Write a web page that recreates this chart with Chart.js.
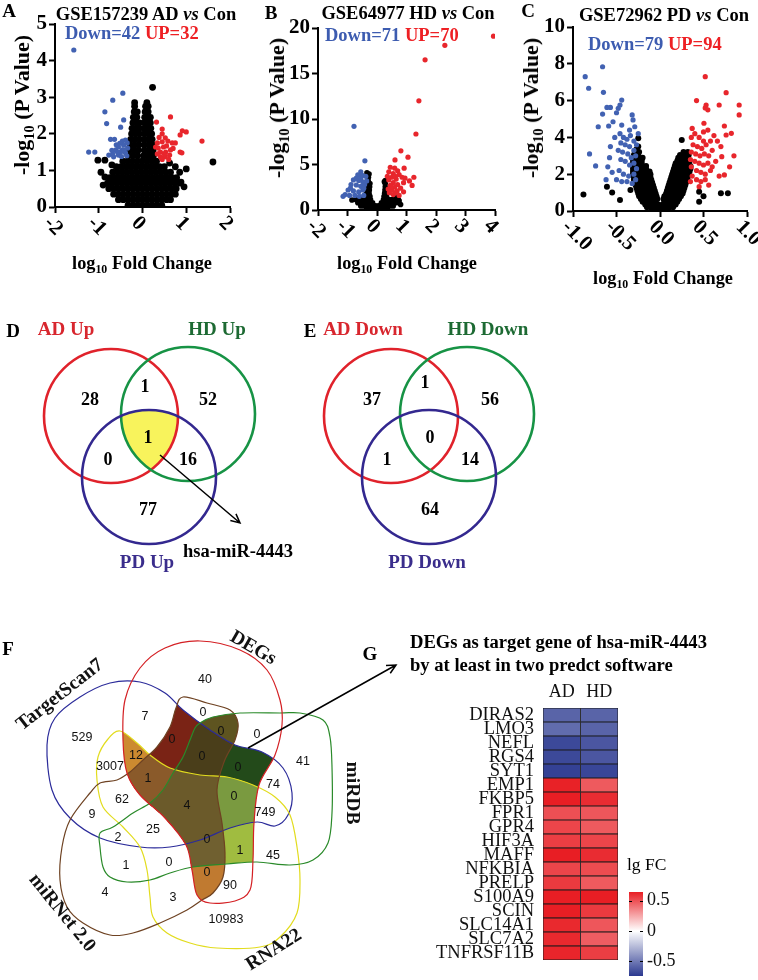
<!DOCTYPE html>
<html>
<head>
<meta charset="utf-8">
<script src="https://cdn.jsdelivr.net/npm/chart.js@4.4.1/dist/chart.umd.min.js"></script>
<style>
body { margin: 0; background: #fff; }
#page { position: relative; width: 758px; height: 980px; overflow: hidden; font-family: 'Liberation Serif', 'Times New Roman', serif; color: #000; }
canvas { position: absolute; }
.t { position: absolute; white-space: nowrap; transform: translate(-50%, -50%); font-weight: bold; line-height: 1; }
.l { position: absolute; white-space: nowrap; transform: translateY(-50%); font-weight: bold; line-height: 1; }
.r { transform: translate(-50%, -50%) rotate(-90deg); }
sub { font-size: 0.65em; vertical-align: -0.35em; line-height: 0; }
.dn { color: #3d5cb0; }
.up { color: #ee2024; }
</style>
</head>
<body>
<div id="page">
  <canvas id="cA" width="250" height="255" style="left:0;top:0"></canvas>
  <canvas id="cB" width="255" height="255" style="left:250px;top:0"></canvas>
  <canvas id="cC" width="253" height="255" style="left:505px;top:0"></canvas>
  <canvas id="cDE" width="758" height="290" style="left:0;top:290px"></canvas>
  <canvas id="cG" width="240" height="300" style="left:390px;top:680px"></canvas>
  <canvas id="cBar" width="158" height="100" style="left:600px;top:880px"></canvas>
  <canvas id="cF" width="400" height="380" style="left:0;top:600px"></canvas>

  <div class="t" style="left:9px;top:10px;font-size:19px">A</div>
  <div class="t" style="left:146px;top:14px;font-size:18.5px">GSE157239 AD <i>vs</i> Con</div>
  <div class="l" style="left:65px;top:33px;font-size:18.5px"><span class="dn">Down=42</span> <span class="up">UP=32</span></div>
  <div class="t r" style="left:22px;top:105px;font-size:22px">-log<sub>10</sub> (P Value)</div>
  <div class="t" style="left:142px;top:263px;font-size:18.3px">log<sub>10</sub> Fold Change</div>

  <div class="t" style="left:271px;top:12px;font-size:19px">B</div>
  <div class="t" style="left:408px;top:13px;font-size:18.5px">GSE64977 HD <i>vs</i> Con</div>
  <div class="l" style="left:325px;top:35px;font-size:18.5px"><span class="dn">Down=71</span> <span class="up">UP=70</span></div>
  <div class="t r" style="left:277px;top:108px;font-size:22px">-log<sub>10</sub> (P Value)</div>
  <div class="t" style="left:407px;top:263px;font-size:18.3px">log<sub>10</sub> Fold Change</div>

  <div class="t" style="left:528px;top:10px;font-size:19px">C</div>
  <div class="t" style="left:664px;top:15px;font-size:18.5px">GSE72962 PD <i>vs</i> Con</div>
  <div class="l" style="left:588px;top:44px;font-size:18.5px"><span class="dn">Down=79</span> <span class="up">UP=94</span></div>
  <div class="t r" style="left:531px;top:108px;font-size:22px">-log<sub>10</sub> (P Value)</div>
  <div class="t" style="left:663px;top:278px;font-size:18.3px">log<sub>10</sub> Fold Change</div>

  <div class="t" style="left:13px;top:330px;font-size:19px">D</div>
  <div class="t" style="left:310px;top:330px;font-size:19px">E</div>
  <div class="t" style="left:8px;top:648px;font-size:19px">F</div>
  <div class="t" style="left:370px;top:653px;font-size:19px">G</div>
  <div class="l" style="left:410px;top:642px;font-size:18.6px">DEGs as target gene of hsa-miR-4443</div>
  <div class="l" style="left:410px;top:665px;font-size:18.6px">by at least in two predct software</div>
  <div class="l" style="left:627px;top:865px;font-size:17.5px;font-weight:normal">lg FC</div>
</div>

<script>
// ---- Datos de los volcanes (A, B, C) ----
// filas de puntos negros: [y, x1, x2, ...]
const adBlackRows = [
  [0.05, -0.33, -0.22, -0.11, 0, 0.11, 0.22, 0.33, 0.44],
  [0.2, -0.55, -0.44, -0.33, -0.22, -0.11, 0, 0.11, 0.22, 0.33, 0.44, 0.55, 0.64],
  [0.35, -0.66, -0.55, -0.44, -0.33, -0.22, -0.11, 0, 0.11, 0.22, 0.33, 0.44, 0.55, 0.66, 0.75],
  [0.5, -0.77, -0.66, -0.55, -0.44, -0.33, -0.22, -0.11, 0, 0.11, 0.22, 0.33, 0.44, 0.55, 0.66, 0.77],
  [0.65, -0.8, -0.69, -0.58, -0.47, -0.36, -0.25, -0.14, -0.03, 0.08, 0.19, 0.3, 0.41, 0.52, 0.63, 0.74, 0.85],
  [0.8, -0.75, -0.64, -0.53, -0.42, -0.31, -0.2, -0.09, 0.02, 0.13, 0.24, 0.35, 0.46, 0.57, 0.68, 0.78],
  [0.95, -0.68, -0.57, -0.46, -0.35, -0.24, -0.13, -0.02, 0.09, 0.2, 0.31, 0.42, 0.53, 0.64],
  [1.1, -0.6, -0.49, -0.38, -0.27, -0.16, -0.05, 0.06, 0.17, 0.28, 0.39, 0.5],
  [1.25, -0.45, -0.34, -0.23, -0.12, -0.01, 0.1, 0.21, 0.32],
  [1.4, -0.33, -0.22, -0.11, 0.03, 0.14, 0.25],
  [1.55, -0.3, -0.2, -0.1, 0.04, 0.14, 0.24],
  [1.7, -0.28, -0.18, -0.08, 0.04, 0.14, 0.23],
  [1.85, -0.27, -0.17, -0.07, 0.04, 0.14, 0.22],
  [2.0, -0.25, -0.16, -0.07, 0.04, 0.13, 0.21],
  [2.15, -0.24, -0.15, -0.07, 0.04, 0.12, 0.19],
  [2.3, -0.22, -0.14, -0.07, 0.04, 0.11, 0.18],
  [2.45, -0.21, -0.13, 0.05, 0.12, 0.18],
  [2.6, -0.19, -0.12, 0.06, 0.13],
  [2.75, -0.18, 0.07, 0.13],
  [2.85, -0.18, 0.1]
];
const adBlackOut = [[0.23, 3.27], [1.61, 1.23], [1.0, 1.04], [-1.02, 1.28], [-0.86, 1.28], [-0.86, 0.82], [-0.95, 0.95],
  [0.88, 0.68], [0.85, 0.95], [0.75, 1.1], [-0.7, 1.15], [0.62, 1.2], [0.95, 0.55], [-0.9, 0.6]];
const adBlue = [[-1.57, 4.29], [-0.45, 3.11], [-0.68, 2.92], [-0.86, 2.6], [-0.82, 2.28], [-0.43, 2.38], [-0.5, 2.18],
  [-0.73, 1.85], [-0.64, 1.85], [-0.46, 1.8], [-0.39, 1.83], [-1.23, 1.5], [-1.09, 1.5], [-0.77, 1.42], [-0.61, 1.56],
  [-0.55, 1.64], [-0.46, 1.56], [-0.43, 1.69], [-0.55, 1.42], [-0.39, 1.48], [-0.34, 1.61], [-0.66, 1.37], [-0.68, 1.45],
  [-0.5, 1.5], [-0.6, 1.7], [-0.36, 1.4], [-0.48, 1.38], [-0.57, 1.5], [-0.42, 1.55], [-0.52, 1.74], [-0.7, 1.55], [-0.35, 1.75]];
const adRed = [[0.64, 2.46], [0.32, 2.32], [0.45, 2.13], [0.91, 2.08], [1.0, 2.05], [0.86, 1.97], [0.52, 1.89], [1.36, 1.8],
  [0.34, 1.75], [0.45, 1.78], [0.68, 1.75], [0.75, 1.75], [0.36, 1.61], [0.48, 1.64], [0.55, 1.67], [0.64, 1.56], [0.41, 1.5],
  [0.86, 1.5], [0.9, 1.48], [0.41, 1.37], [0.52, 1.37], [0.62, 1.42], [0.45, 1.3], [0.34, 1.45], [0.3, 1.64], [0.53, 1.5],
  [0.7, 1.6], [0.45, 2.0], [0.58, 1.8], [0.38, 1.9], [0.5, 1.45], [0.6, 1.3]];

const hdBlackRows = [
  [0.1, -0.35, -0.25, -0.15, -0.05, 0.05, 0.15, 0.25, 0.35],
  [0.45, -0.55, -0.45, -0.35, -0.25, -0.15, -0.05, 0.05, 0.15, 0.25, 0.35, 0.45, 0.55],
  [0.8, -0.65, -0.55, -0.45, -0.35, -0.25, -0.15, 0.15, 0.25, 0.35, 0.45, 0.55, 0.65],
  [1.15, -0.72, -0.62, -0.52, -0.42, -0.32, -0.22, 0.22, 0.32, 0.42, 0.52, 0.62, 0.72],
  [1.5, -0.4, -0.32, -0.24, 0.24, 0.32],
  [1.85, -0.36, -0.27, 0.26, 0.34],
  [2.2, -0.34, -0.26, 0.27],
  [2.55, -0.33, -0.25, 0.28],
  [2.9, -0.31, -0.24, 0.28],
  [3.25, -0.3, 0.28],
  [3.6, -0.29],
  [3.95, -0.27]
];
const hdBlackOut = [[0.75, 1.0], [0.65, 1.35], [0.25, 3.1], [-0.85, 1.1], [0.8, 0.6], [-0.34, 4.1]];
const hdBlue = [[-0.78, 9.2], [-0.41, 5.4], [-0.55, 4.2], [-0.65, 3.85], [-0.5, 3.8], [-0.38, 3.7], [-0.8, 3.3], [-0.62, 3.25],
  [-0.48, 3.1], [-0.88, 2.8], [-0.7, 2.75], [-0.55, 2.6], [-0.42, 2.8], [-0.98, 2.2], [-0.8, 2.1], [-0.62, 2.0], [-0.48, 2.2],
  [-1.08, 1.7], [-0.93, 1.6], [-1.15, 1.5], [-0.75, 1.6], [-0.6, 1.5], [-0.45, 1.6], [-0.7, 3.5], [-0.35, 3.2], [-0.9, 2.4],
  [-0.55, 3.5], [-0.45, 2.4]];
const hdRed = [[3.95, 19.1], [2.3, 18.1], [1.63, 16.5], [1.42, 12.0], [1.32, 8.35], [0.81, 6.5], [1.05, 5.8], [0.61, 5.5],
  [0.92, 4.6], [0.45, 4.7], [0.6, 4.6], [0.7, 4.3], [1.25, 3.6], [1.19, 2.7], [1.1, 3.2], [0.4, 4.2], [0.55, 4.0], [0.75, 3.9],
  [0.85, 3.6], [0.5, 3.6], [0.65, 3.4], [0.4, 3.3], [0.9, 3.0], [0.55, 3.0], [0.7, 2.8], [0.45, 2.7], [0.6, 2.5], [0.8, 2.4],
  [0.38, 2.3], [0.5, 2.2], [0.68, 2.1], [0.9, 2.0], [0.42, 1.9], [0.55, 1.7], [0.75, 1.6], [0.35, 3.7], [0.95, 3.5],
  [0.62, 3.7], [0.48, 2.5], [0.62, 1.9]];

const pdBlackRows = [
  [0.05, -0.1, -0.05, 0, 0.05, 0.1],
  [0.2, -0.15, -0.1, -0.05, 0, 0.05, 0.1, 0.15],
  [0.35, -0.17, -0.12, -0.07, -0.02, 0.03, 0.08, 0.13, 0.18],
  [0.5, -0.2, -0.15, -0.1, -0.05, 0.05, 0.1, 0.15, 0.2],
  [0.65, -0.22, -0.17, -0.12, -0.07, -0.03, 0.04, 0.08, 0.13, 0.18, 0.22],
  [0.8, -0.24, -0.19, -0.14, -0.09, -0.04, 0.05, 0.1, 0.15, 0.2, 0.24],
  [0.95, -0.25, -0.2, -0.15, -0.1, -0.05, 0.07, 0.12, 0.17, 0.22, 0.26],
  [1.1, -0.26, -0.21, -0.16, -0.11, -0.06, 0.08, 0.13, 0.18, 0.23, 0.27],
  [1.25, -0.27, -0.22, -0.17, -0.12, -0.07, 0.09, 0.14, 0.19, 0.24, 0.28],
  [1.4, -0.28, -0.23, -0.18, -0.13, -0.08, 0.1, 0.15, 0.2, 0.25, 0.29],
  [1.55, -0.29, -0.24, -0.19, -0.14, -0.09, 0.11, 0.16, 0.21, 0.26, 0.3],
  [1.7, -0.3, -0.25, -0.2, -0.15, -0.1, 0.12, 0.17, 0.22, 0.27, 0.31],
  [1.85, -0.3, -0.25, -0.2, -0.15, -0.11, 0.13, 0.18, 0.23, 0.28, 0.32],
  [2.0, -0.31, -0.26, -0.21, -0.16, -0.11, 0.14, 0.19, 0.24, 0.29, 0.33],
  [2.15, -0.31, -0.26, -0.21, -0.16, -0.12, 0.15, 0.2, 0.25, 0.3, 0.34],
  [2.3, -0.31, -0.26, -0.21, -0.16, 0.16, 0.21, 0.26, 0.31, 0.35],
  [2.45, -0.31, -0.26, -0.21, -0.16, 0.17, 0.22, 0.27, 0.32, 0.35],
  [2.6, -0.31, -0.26, -0.21, 0.18, 0.23, 0.28, 0.33],
  [2.75, -0.31, -0.26, -0.21, 0.2, 0.25, 0.3, 0.34],
  [2.9, -0.3, -0.25, -0.2, 0.21, 0.26, 0.31],
  [3.05, -0.3, -0.25, 0.23, 0.28, 0.33],
  [3.2, -0.29, -0.24, 0.27, 0.32],
  [3.35, -0.27],
  [3.5, -0.25]
];
const pdBlackOut = [[-0.88, 0.9], [-0.61, 1.32], [-0.46, 0.6], [-0.34, 1.14], [0.45, 1.05], [0.7, 0.96], [0.45, 0.5],
  [-0.25, 3.95], [0.25, 3.86], [0.78, 0.96], [-0.55, 1.0], [0.5, 0.8]];
const pdBlue = [[-0.86, 7.3], [-0.66, 7.84], [-0.82, 6.67], [-0.65, 6.45], [-0.44, 6.03], [-0.46, 5.76], [-0.61, 5.63],
  [-0.57, 5.63], [-0.48, 5.58], [-0.5, 5.34], [-0.66, 5.27], [-0.32, 5.22], [-0.31, 4.95], [-0.54, 4.85], [-0.71, 4.58],
  [-0.59, 4.62], [-0.44, 4.67], [-0.29, 4.58], [-0.81, 3.1], [-0.74, 2.45],
  [-0.46, 4.2], [-0.42, 4.0], [-0.38, 3.9], [-0.34, 4.1], [-0.3, 3.8], [-0.45, 3.7], [-0.4, 3.6], [-0.35, 3.5], [-0.3, 3.3],
  [-0.27, 3.6], [-0.48, 3.3], [-0.43, 3.2], [-0.37, 3.1], [-0.33, 2.9], [-0.28, 3.0], [-0.45, 2.8], [-0.4, 2.7], [-0.35, 2.5],
  [-0.3, 2.6], [-0.27, 2.3], [-0.55, 2.1], [-0.47, 2.2], [-0.42, 2.0], [-0.36, 1.9], [-0.3, 2.0], [-0.5, 1.7], [-0.44, 1.6],
  [-0.38, 1.6], [-0.32, 1.5], [-0.28, 1.7], [-0.52, 4.0], [-0.57, 3.5], [-0.6, 2.4], [-0.62, 1.7], [-0.35, 4.4], [-0.25, 4.2],
  [-0.58, 2.9]];
const pdRed = [[0.52, 7.3], [0.76, 6.43], [0.42, 6.0], [0.53, 5.76], [0.52, 5.6], [0.55, 5.5], [0.68, 5.76], [0.91, 5.76],
  [0.91, 5.22], [0.37, 4.49], [0.74, 4.62], [0.82, 4.22], [0.76, 4.13], [0.505, 4.77], [0.6, 3.3], [0.71, 2.95], [0.74, 1.96],
  [0.56, 1.41], [0.45, 1.32], [0.66, 3.8], [0.7, 3.5], [0.62, 4.1], [0.55, 4.4], [0.85, 3.0], [0.8, 2.4], [0.64, 2.7],
  [0.58, 2.2], [0.68, 1.9],
  [0.36, 4.0], [0.4, 4.2], [0.45, 4.0], [0.5, 3.8], [0.38, 3.6], [0.43, 3.5], [0.48, 3.4], [0.53, 3.6], [0.36, 3.2],
  [0.41, 3.1], [0.46, 3.0], [0.51, 3.1], [0.56, 3.0], [0.35, 2.8], [0.4, 2.7], [0.45, 2.6], [0.5, 2.5], [0.55, 2.6],
  [0.36, 2.4], [0.42, 2.2], [0.47, 2.1], [0.52, 2.0], [0.37, 1.9], [0.42, 1.7], [0.47, 1.6], [0.35, 1.6], [0.52, 1.7],
  [0.6, 2.4], [0.5, 4.3], [0.58, 3.8]];

const adXTicks = [-2, -1, 0, 1, 2];
const adXLabels = ['-2', '-1', '0', '1', '2'];
const hdXTicks = [-2, -1, 0, 1, 2, 3, 4];
const hdXLabels = ['-2', '-1', '0', '1', '2', '3', '4'];
const pdXTicks = [-1, -0.5, 0, 0.5, 1];
const pdXLabels = ['-1.0', '-0.5', '0.0', '0.5', '1.0'];

// ---- Diagramas de Venn D y E ----
const vennNamesD = ['AD Up', 'HD Up', 'PD Up'];
const vennCountsD = [28, 52, 77, 1, 0, 16, 1];   // AD, HD, PD, AD&HD, AD&PD, HD&PD, todos
const vennNamesE = ['AD Down', 'HD Down', 'PD Down'];
const vennCountsE = [37, 56, 64, 1, 1, 14, 0];

// ---- Venn de 5 conjuntos (F) ----
const fSets = ['DEGs', 'TargetScan7', 'RNA22', 'miRNet 2.0', 'miRDB'];
const fCounts = [40, 7, 0, 529, 0, 0, 0, 41, 3007, 12, 0, 0, 1, 74, 62, 4, 0, 749, 9, 25, 2, 0, 1, 45, 1, 0, 0, 90, 4, 3, 10983];

// ---- Heatmap (G) ----
const genes = ['DIRAS2', 'LMO3', 'NEFL', 'RGS4', 'SYT1', 'EMP1', 'FKBP5', 'FPR1', 'GPR4', 'HIF3A', 'MAFF', 'NFKBIA',
  'PRELP', 'S100A9', 'SCIN', 'SLC14A1', 'SLC7A2', 'TNFRSF11B'];
const heatCols = ['AD', 'HD'];
const fcAD = [-0.58, -0.55, -0.68, -0.68, -0.71, 0.63, 0.64, 0.50, 0.53, 0.55, 0.64, 0.53, 0.56, 0.64, 0.64, 0.61, 0.61, 0.62];
const fcHD = [-0.58, -0.58, -0.63, -0.63, -0.69, 0.47, 0.60, 0.48, 0.47, 0.53, 0.60, 0.51, 0.47, 0.64, 0.56, 0.48, 0.46, 0.55];
const cbTicks = [0.5, 0, -0.5];
const cbMin = -0.74, cbMax = 0.64;

const SERIF = '"Liberation Serif", "Times New Roman", serif';
Chart.defaults.font.family = SERIF;

function rowsToPoints(rows, extra) {
  const pts = [];
  rows.forEach(r => r.slice(1).forEach(x => pts.push({ x: x, y: r[0] })));
  extra.forEach(p => pts.push({ x: p[0], y: p[1] }));
  return pts;
}
function pairs(list) { return list.map(p => ({ x: p[0], y: p[1] })); }

// etiquetas del eje x giradas 45 grados en sentido horario
const rotLabels = {
  id: 'rotLabels',
  afterDraw(chart, args, opts) {
    const xs = chart.scales.x, ctx = chart.ctx;
    ctx.save();
    ctx.font = 'bold 21px ' + SERIF;
    ctx.fillStyle = '#000';
    ctx.textAlign = 'left';
    ctx.textBaseline = 'middle';
    opts.ticks.forEach((v, i) => {
      ctx.save();
      ctx.translate(xs.getPixelForValue(v) - 8, xs.top + 13);
      ctx.rotate(Math.PI / 4);
      ctx.fillText(opts.labels[i], 0, 0);
      ctx.restore();
    });
    ctx.restore();
  }
};

function volcano(id, o) {
  const axisGrid = { drawOnChartArea: false, tickLength: 6, tickWidth: 2, tickColor: '#000' };
  const axisBorder = { color: '#000', width: 2 };
  new Chart(document.getElementById(id), {
    type: 'scatter',
    data: {
      datasets: [
        { data: pairs(o.red), backgroundColor: '#e8262c', pointRadius: 2.6, pointBorderWidth: 0, order: 1 },
        { data: pairs(o.blue), backgroundColor: '#4262b2', pointRadius: 2.6, pointBorderWidth: 0, order: 2 },
        { data: rowsToPoints(o.blackRows, o.blackOut), backgroundColor: '#000', pointRadius: o.blackR, pointBorderWidth: 0, order: 3 }
      ]
    },
    options: {
      responsive: false,
      animation: false,
      layout: { padding: o.pad },
      plugins: {
        legend: { display: false },
        tooltip: { enabled: false },
        rotLabels: { ticks: o.xTicks, labels: o.xLabels }
      },
      scales: {
        x: {
          type: 'linear', min: o.xMin, max: o.xMax,
          afterBuildTicks: s => { s.ticks = o.xTicks.map(v => ({ value: v })); },
          afterFit: s => { s.height = o.xH; },
          ticks: { display: false },
          grid: axisGrid, border: axisBorder
        },
        y: {
          type: 'linear', min: 0, max: o.yMax,
          ticks: { stepSize: o.yStep, color: '#000', padding: 2, font: { size: 21, weight: 'bold' } },
          afterFit: s => { s.width = o.yW; },
          grid: axisGrid, border: axisBorder
        }
      }
    },
    plugins: [rotLabels]
  });
}

volcano('cA', { red: adRed, blue: adBlue, blackRows: adBlackRows, blackOut: adBlackOut, blackR: 3.4,
  xMin: -2, xMax: 2, xTicks: adXTicks, xLabels: adXLabels, yMax: 5, yStep: 1,
  pad: { top: 24, right: 20, left: 0, bottom: 0 }, yW: 55, xH: 48 });
volcano('cB', { red: hdRed, blue: hdBlue, blackRows: hdBlackRows, blackOut: hdBlackOut, blackR: 2.8,
  xMin: -2, xMax: 4, xTicks: hdXTicks, xLabels: hdXLabels, yMax: 20, yStep: 5,
  pad: { top: 28, right: 10, left: 0, bottom: 0 }, yW: 68, xH: 45 });
volcano('cC', { red: pdRed, blue: pdBlue, blackRows: pdBlackRows, blackOut: pdBlackOut, blackR: 3,
  xMin: -1, xMax: 1, xTicks: pdXTicks, xLabels: pdXLabels, yMax: 10, yStep: 2,
  pad: { top: 27, right: 11, left: 0, bottom: 0 }, yW: 68, xH: 44 });

// ---- D y E: tres círculos cada uno ----
const venn3 = {
  id: 'venn3',
  afterDraw(chart, args, opts) {
    const { ctx, scales: { x, y } } = chart;
    const k = x.getPixelForValue(1) - x.getPixelForValue(0);
    opts.diagrams.forEach(d => {
      const C = d.circles.map(c => ({ x: x.getPixelForValue(c[0]), y: y.getPixelForValue(c[1]), r: c[2] * k }));
      if (d.highlight) {
        ctx.save();
        C.forEach(c => { ctx.beginPath(); ctx.arc(c.x, c.y, c.r, 0, Math.PI * 2); ctx.clip(); });
        ctx.fillStyle = '#f8f35c';
        ctx.fillRect(0, 0, chart.width, chart.height);
        ctx.restore();
      }
      ctx.lineWidth = 2.6;
      C.forEach((c, i) => {
        ctx.beginPath(); ctx.arc(c.x, c.y, c.r, 0, Math.PI * 2);
        ctx.strokeStyle = d.stroke[i]; ctx.stroke();
      });
      ctx.textAlign = 'center'; ctx.textBaseline = 'middle';
      ctx.font = 'bold 18px ' + SERIF; ctx.fillStyle = '#000';
      d.counts.forEach((n, i) => ctx.fillText(String(n), x.getPixelForValue(d.countPos[i][0]), y.getPixelForValue(d.countPos[i][1])));
      ctx.font = 'bold 19px ' + SERIF;
      d.names.forEach((s, i) => {
        ctx.fillStyle = d.nameColor[i];
        ctx.fillText(s, x.getPixelForValue(d.namePos[i][0]), y.getPixelForValue(d.namePos[i][1]));
      });
      if (d.arrow) {
        const a = d.arrow;
        const x0 = x.getPixelForValue(a[0]), y0 = y.getPixelForValue(a[1]);
        const x1 = x.getPixelForValue(a[2]), y1 = y.getPixelForValue(a[3]);
        drawArrow(ctx, x0, y0, x1, y1);
        ctx.font = 'bold 18.5px ' + SERIF; ctx.fillStyle = '#000';
        ctx.fillText(a[4], x.getPixelForValue(a[5]), y.getPixelForValue(a[6]));
      }
    });
  }
};

function drawArrow(ctx, x0, y0, x1, y1) {
  const ang = Math.atan2(y1 - y0, x1 - x0);
  ctx.save();
  ctx.strokeStyle = '#000'; ctx.lineWidth = 1.5;
  ctx.beginPath(); ctx.moveTo(x0, y0); ctx.lineTo(x1, y1);
  ctx.moveTo(x1 - 10 * Math.cos(ang - 0.45), y1 - 10 * Math.sin(ang - 0.45));
  ctx.lineTo(x1, y1);
  ctx.lineTo(x1 - 10 * Math.cos(ang + 0.45), y1 - 10 * Math.sin(ang + 0.45));
  ctx.stroke();
  ctx.restore();
}

const circleStroke = ['#e0222b', '#179345', '#33288f'];
const nameColor = ['#d8262e', '#1d6a33', '#3a2d8c'];
new Chart(document.getElementById('cDE'), {
  type: 'scatter',
  data: { datasets: [] },
  options: {
    responsive: false, animation: false,
    layout: { padding: 0 },
    plugins: {
      legend: { display: false }, tooltip: { enabled: false },
      venn3: {
        diagrams: [
          { circles: [[111, 416, 67], [188, 414, 67], [149, 477, 67]], stroke: circleStroke, highlight: true,
            counts: vennCountsD, countPos: [[90, 400], [208, 400], [148, 510], [145, 387], [108, 460], [188, 460], [148, 438]],
            names: vennNamesD, nameColor: nameColor, namePos: [[66, 330], [217, 330], [147, 563]],
            arrow: [160, 455, 240, 523, 'hsa-miR-4443', 238, 552] },
          { circles: [[391, 416, 67], [467, 414, 67], [429, 477, 67]], stroke: circleStroke, highlight: false,
            counts: vennCountsE, countPos: [[372, 400], [490, 400], [430, 510], [425, 383], [387, 460], [470, 460], [430, 438]],
            names: vennNamesE, nameColor: nameColor, namePos: [[363, 330], [488, 330], [427, 563]] }
        ]
      }
    },
    scales: {
      x: { type: 'linear', display: false, min: 0, max: 758 },
      y: { type: 'linear', display: false, min: 290, max: 580, reverse: true }
    }
  },
  plugins: [venn3]
});

// ---- F: contornos de los cinco conjuntos ----
const fShapes = [
  [[200, 641], [240, 650], [267, 670], [280, 700], [282, 725], [275, 755], [259, 785], [254, 823], [253, 860], [250, 890],
   [235, 901], [210, 903], [197, 895], [192, 870], [186, 845], [165, 818], [140, 795], [127, 773], [123, 740], [125, 700],
   [140, 668], [165, 648]],
  [[47, 745], [55, 718], [80, 697], [110, 683], [140, 682], [165, 693], [183, 710], [210, 730], [235, 745], [262, 752],
   [283, 768], [292, 793], [288, 815], [275, 826], [257, 822], [230, 828], [200, 840], [170, 847], [140, 847], [100, 838],
   [70, 818], [52, 790]],
  [[120, 731], [137, 743], [150, 755], [170, 768], [200, 775], [227, 777], [253, 785], [275, 797], [290, 815], [297, 847],
   [300, 880], [297, 913], [280, 937], [260, 947], [217, 948], [190, 943], [167, 933], [153, 917], [150, 897], [147, 870],
   [140, 847], [123, 827], [103, 807], [97, 780], [98, 757], [108, 739]],
  [[183, 697], [207, 703], [230, 710], [238, 723], [235, 740], [224, 762], [217, 790], [222, 823], [225, 853], [223, 877],
   [213, 893], [202, 900], [187, 910], [160, 923], [133, 933], [110, 935], [83, 923], [67, 907], [60, 880], [62, 847],
   [70, 820], [90, 793], [100, 783], [117, 780], [130, 772], [143, 760], [157, 747], [170, 727], [176, 708]],
  [[200, 723], [213, 717], [240, 713], [280, 713], [300, 713], [323, 720], [330, 737], [332, 767], [332, 813], [328, 843],
   [313, 860], [290, 865], [257, 862], [227, 864], [193, 867], [170, 873], [150, 880], [127, 882], [110, 877], [103, 867],
   [100, 847], [100, 833], [113, 827], [133, 813], [150, 803], [163, 790], [173, 773], [183, 757], [190, 740], [195, 728]]
];
const fStroke = ['#d42024', '#2b2b9a', '#e2dc1e', '#6e4222', '#2a8a2a'];
// regiones dentro de DEGs compartidas por dos o más programas
const fFills = [
  [[1, 3], '#7a2315'], [[1, 2], '#cc8a30'], [[1, 4], '#234a1a'], [[2, 3], '#c07a30'], [[2, 4], '#a0bc40'], [[3, 4], '#5e5420'],
  [[1, 2, 3], '#8a5a2a'], [[1, 3, 4], '#4a3e1a'], [[1, 2, 4], '#7a9a40'], [[2, 3, 4], '#706030'], [[1, 2, 3, 4], '#6b5a2a']
];
const fCountPos = [[205, 680], [145, 717], [203, 713], [82, 738], [172, 740], [221, 732], [257, 735], [303, 762], [110, 767],
  [136, 756], [202, 757], [238, 768], [148, 779], [273, 785], [122, 800], [187, 806], [234, 797], [265, 813], [92, 815],
  [153, 830], [118, 838], [207, 840], [240, 851], [273, 856], [126, 866], [169, 863], [207, 873], [230, 886], [105, 893],
  [173, 898], [226, 920]];
const fNamePos = [[253, 648, 30], [60, 695, -38], [274, 950, -32], [62, 913, 51], [352, 793, 90]];

function smoothPath(ctx, pts) {
  const n = pts.length;
  ctx.beginPath();
  ctx.moveTo(pts[0][0], pts[0][1]);
  for (let i = 0; i < n; i++) {
    const p0 = pts[(i - 1 + n) % n], p1 = pts[i], p2 = pts[(i + 1) % n], p3 = pts[(i + 2) % n];
    ctx.bezierCurveTo(p1[0] + (p2[0] - p0[0]) / 6, p1[1] + (p2[1] - p0[1]) / 6,
      p2[0] - (p3[0] - p1[0]) / 6, p2[1] - (p3[1] - p1[1]) / 6, p2[0], p2[1]);
  }
  ctx.closePath();
}

const venn5 = {
  id: 'venn5',
  afterDraw(chart) {
    const { ctx, scales: { x, y } } = chart;
    const shapes = fShapes.map(s => s.map(p => [x.getPixelForValue(p[0]), y.getPixelForValue(p[1])]));
    fFills.forEach(f => {
      ctx.save();
      smoothPath(ctx, shapes[0]); ctx.clip();
      f[0].forEach(i => { smoothPath(ctx, shapes[i]); ctx.clip(); });
      ctx.fillStyle = f[1];
      ctx.fillRect(0, 0, chart.width, chart.height);
      ctx.restore();
    });
    ctx.lineWidth = 1.2;
    [1, 2, 3, 4, 0].forEach(i => { smoothPath(ctx, shapes[i]); ctx.strokeStyle = fStroke[i]; ctx.stroke(); });
    ctx.textAlign = 'center'; ctx.textBaseline = 'middle';
    ctx.fillStyle = '#111';
    ctx.font = '12.5px "Liberation Sans", Arial, sans-serif';
    fCounts.forEach((n, i) => ctx.fillText(String(n), x.getPixelForValue(fCountPos[i][0]), y.getPixelForValue(fCountPos[i][1])));
    ctx.font = 'bold 19.5px ' + SERIF;
    fSets.forEach((s, i) => {
      ctx.save();
      ctx.translate(x.getPixelForValue(fNamePos[i][0]), y.getPixelForValue(fNamePos[i][1]));
      ctx.rotate(fNamePos[i][2] * Math.PI / 180);
      ctx.fillText(s, 0, 0);
      ctx.restore();
    });
    drawArrow(ctx, x.getPixelForValue(248), y.getPixelForValue(748), x.getPixelForValue(396), y.getPixelForValue(665));
  }
};

new Chart(document.getElementById('cF'), {
  type: 'scatter',
  data: { datasets: [] },
  options: {
    responsive: false, animation: false,
    layout: { padding: 0 },
    plugins: { legend: { display: false }, tooltip: { enabled: false } },
    scales: {
      x: { type: 'linear', display: false, min: 0, max: 400 },
      y: { type: 'linear', display: false, min: 600, max: 980, reverse: true }
    }
  },
  plugins: [venn5]
});

// ---- G: mapa de calor ----
const blueEnd = [43, 57, 144], redEnd = [232, 30, 36];
function colorFor(v) {
  const end = v < 0 ? blueEnd : redEnd;
  const f = Math.min(1, v < 0 ? v / cbMin : v / cbMax);
  const c = end.map(e => Math.round(255 + (e - 255) * f));
  return 'rgb(' + c.join(',') + ')';
}

new Chart(document.getElementById('cG'), {
  type: 'bar',
  data: {
    labels: genes,
    datasets: [
      { label: 'AD', data: genes.map(() => [0, 1]), backgroundColor: fcAD.map(colorFor) },
      { label: 'HD', data: genes.map(() => [1, 2]), backgroundColor: fcHD.map(colorFor) }
    ]
  },
  options: {
    indexAxis: 'y',
    responsive: false, animation: false,
    layout: { padding: { top: 0, right: 12, bottom: 3, left: 0 } },
    datasets: { bar: { grouped: false, barPercentage: 1, categoryPercentage: 1, borderWidth: 0.8, borderColor: '#1a1a1a', borderSkipped: false } },
    plugins: { legend: { display: false }, tooltip: { enabled: false } },
    scales: {
      x: {
        type: 'linear', position: 'top', min: 0, max: 2,
        afterBuildTicks: s => { s.ticks = [{ value: 0.5 }, { value: 1.5 }]; },
        afterFit: s => { s.height = 28; },
        ticks: { callback: v => heatCols[Math.floor(v)], color: '#111', padding: 5, font: { size: 18 } },
        grid: { display: false, drawTicks: false }, border: { display: false }
      },
      y: {
        type: 'category',
        afterFit: s => { s.width = 153; },
        ticks: { color: '#111', padding: 9, font: { size: 18.5 }, autoSkip: false },
        grid: { display: false, drawTicks: false }, border: { display: false }
      }
    }
  }
});

// barra de color
const cbDashes = {
  id: 'cbDashes',
  afterDatasetsDraw(chart) {
    const { ctx, chartArea: a, scales: { y } } = chart;
    ctx.save();
    ctx.strokeStyle = '#000'; ctx.lineWidth = 1;
    cbTicks.forEach(v => {
      const py = Math.round(y.getPixelForValue(v)) + 0.5;
      ctx.beginPath();
      ctx.moveTo(a.left, py); ctx.lineTo(a.left + 3, py);
      ctx.moveTo(a.right - 3, py); ctx.lineTo(a.right, py);
      ctx.stroke();
    });
    ctx.restore();
  }
};
new Chart(document.getElementById('cBar'), {
  type: 'bar',
  data: {
    labels: ['lg FC'],
    datasets: [{
      data: [[cbMin, cbMax]],
      barPercentage: 1, categoryPercentage: 1, borderWidth: 0,
      backgroundColor: c => {
        const a = c.chart.chartArea;
        if (!a) return '#fff';
        const g = c.chart.ctx.createLinearGradient(0, a.bottom, 0, a.top);
        g.addColorStop(0, colorFor(cbMin));
        g.addColorStop(-cbMin / (cbMax - cbMin), '#ffffff');
        g.addColorStop(1, colorFor(cbMax));
        return g;
      }
    }]
  },
  options: {
    responsive: false, animation: false,
    layout: { padding: { top: 12, right: 0, bottom: 4, left: 29 } },
    plugins: { legend: { display: false }, tooltip: { enabled: false } },
    scales: {
      x: { display: false },
      y: {
        position: 'right', min: cbMin, max: cbMax,
        afterBuildTicks: s => { s.ticks = cbTicks.map(v => ({ value: v })); },
        afterFit: s => { s.width = 115; s.paddingTop = 0; s.paddingBottom = 0; },
        ticks: { color: '#111', padding: 4, font: { size: 18 }, callback: v => String(v) },
        grid: { display: false, drawTicks: false }, border: { display: false }
      }
    }
  },
  plugins: [cbDashes]
});
</script>
</body>
</html>
